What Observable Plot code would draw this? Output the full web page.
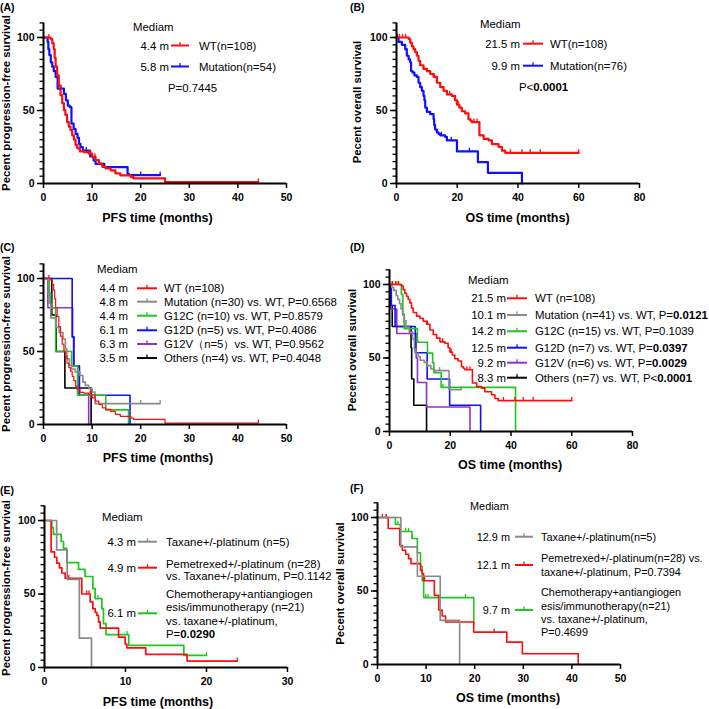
<!DOCTYPE html>
<html><head><meta charset="utf-8">
<script src="https://cdn.jsdelivr.net/npm/d3@7"></script>
<script src="https://cdn.jsdelivr.net/npm/@observablehq/plot@0.6"></script>
<style>
body{margin:0;background:#fff;}
#root{position:relative;width:709px;height:709px;overflow:hidden;background:#fff;font-family:"Liberation Sans",Arial,sans-serif;}
.panel{position:absolute;}
#overlay{position:absolute;left:0;top:0;pointer-events:none;}
</style></head><body><div id="root"></div>
<script>
// ---------------- DATA (time in months, survival in %) ----------------
// PFS, wild type (n=108) – panels A and C
const pfsWT = [[0,100],[1.45,99],[1.8,96],[2.1,92],[2.3,86],[2.5,80],[2.8,74],[3.15,67],[3.5,60.5],[3.85,55],[4.2,50.2],[4.5,47],[4.85,42],[5.2,39],[5.55,36.5],[5.9,33],[6.25,30],[6.6,26.3],[6.95,24],[7.5,22],[8.3,21.5],[9.3,20.5],[10,18.3],[10.7,16],[11.4,13.7],[12.1,11.4],[12.8,10.3],[13.8,9],[14.8,7],[15.8,5.6],[18,4.4],[18.5,3.5],[25,0.9]];
const pfsWTEnd = 44.2;
const pfsWTCens = [1.1, 9.6, 10.6, 44.2];
// PFS, mutation (n=54) – panel A
const pfsMut54 = [[0,100],[0.85,97],[1.0,92],[1.2,88],[1.5,83],[1.8,80],[2.1,77],[2.5,73],[2.9,65],[4.2,61.4],[4.6,57],[5.0,53.4],[5.4,52.3],[5.75,41],[6.2,37.4],[6.6,34],[7.0,31.3],[7.3,27.2],[7.6,25],[8.1,22.6],[9.6,18.5],[10.3,15.8],[10.7,13.5],[12.5,11.2],[17.3,6.6],[17.6,5.8]];
const pfsMut54End = 24;
const pfsMut54Cens = [3.6, 8.8, 20, 24];
// OS, wild type (n=108) – panels B and D
const osWT = [[0,100],[4.0,99],[4.5,96.5],[5.05,94],[5.6,92],[6.15,90],[6.7,87.5],[7.25,84],[7.8,81],[8.9,78.5],[10,77],[11.1,75],[12.2,73],[13.3,69],[14.4,66],[15.5,63.5],[16.6,61],[18.2,60],[19.3,57],[19.9,54],[20.7,52],[21.5,49.5],[22.6,48],[23.7,44],[24.3,43],[24.8,42],[27.3,33],[28.7,30.5],[30.3,29.5],[31.4,27],[33.6,25],[34.7,22.5],[35.8,21]];
const osWTEnd = 60;
const osWTCens = [1, 2, 3, 12.5, 17.5, 20.3, 25.5, 26.5, 37.5, 41.3, 44, 47.3, 60];
// OS, mutation (n=76) – panel B
const osMut76 = [[0,100],[0.66,97],[1.76,95],[2.86,92],[3.4,87.5],[4,85],[4.5,83],[4.8,77],[5.3,76],[5.9,74],[6.7,73],[7.25,69],[7.8,66],[8.35,63.5],[8.9,60],[9.2,57],[9.45,52],[10,49],[11.1,47.5],[12.2,44],[12.4,40],[12.7,37],[13.3,35],[13.8,34],[14.4,33],[16,32],[16.6,29.5],[19.9,22],[26.8,14.6],[30.1,7.3],[41.3,0]];
const osMut76Cens = [0.3, 14.8, 18, 24];
// PFS subgroups – panel C
const pfsMut30 = [[0,100],[1.0,90],[1.2,83],[1.5,73],[2.6,66.6],[3.2,63],[4.0,58.6],[4.5,51.8],[4.8,45],[5.35,40.5],[5.8,38],[6.5,36],[7.5,33.6],[8.1,29],[8.6,26.8],[9.3,24.5],[10,22.3],[10.6,14.3]];
const pfsMut30End = 24;
const pfsMut30Cens = [7.2, 20, 24];
const pfsG12C = [[0,100],[1.2,90],[1.5,80],[2.5,50],[5.8,40],[7.0,20],[12.8,10],[17.5,0]];
const pfsG12D = [[0,100],[5.9,60],[6.2,40],[7.4,20],[17.8,0]];
const pfsG12V = [[0,100],[0.9,80],[6.0,60],[6.3,40],[7.3,20],[9.3,0]];
const pfsOthers = [[0,100],[1.7,75],[2.6,50],[4.4,25],[9.8,0]];
// OS subgroups – panel D
const osMut41 = [[0,100],[0.76,98],[1.4,96],[2.2,92.5],[2.7,90],[3.3,87],[3.8,83.4],[4.3,79],[4.9,75.5],[5.4,71],[6.5,67.5],[7.6,63],[8.2,56],[8.7,53],[9.5,51],[10.1,48.5],[11.4,47],[12.5,44.8],[13.6,42.5],[14.7,41.4],[19.6,28.5]];
const osMut41End = 23.6;
const osMut41Cens = [0.5, 16.5, 19.6, 23.6];
const osG12C = [[0,100],[3.9,93.3],[4.4,80],[4.8,70],[9.2,60.7],[12.5,53.3],[14.2,46.7],[14.6,40],[17,30],[41.5,0]];
const osG12CCens = [2.5, 14.9, 17.6];
const osG12D = [[0,100],[0.5,85.7],[1.85,71.4],[8.5,53.6],[12.4,35.7],[19.8,17.9],[30,0]];
const osG12V = [[0,100],[0.4,83.3],[2.4,66.7],[8.8,50],[9.2,33.3],[12.2,16.7],[26.5,0]];
const osOthers = [[0,100],[0.6,85.7],[0.9,71.4],[7.1,57.1],[7.3,35.7],[8.0,17.9],[12.2,0]];
// PFS by regimen – panel E
const pfsTaxane = [[0,100],[1.5,80],[2.8,60],[4.3,20],[5.8,0]];
const pfsPem = [[0,100],[0.82,78.6],[1.23,75],[1.52,71],[1.85,67.8],[2.14,64.3],[2.55,60.7],[4.6,50],[5.64,44.6],[5.97,40],[6.26,37.5],[6.46,35.5],[6.67,31],[6.87,26.8],[9.14,20.6],[9.96,16],[10.16,13.4],[12.5,8.9],[17.6,4.4]];
const pfsPemEnd = 23.8;
const pfsPemCens = [3.0, 5.2, 5.5, 23.8];
const pfsChemo = [[0,100],[0.9,95.2],[1.1,90.5],[2.06,85.7],[2.35,81],[2.76,71.4],[4.2,66.7],[5.0,61.9],[5.97,53.6],[6.25,46.9],[7.08,40],[7.28,29.8],[7.6,22.3],[10.4,15],[17.2,8.2]];
const pfsChemoEnd = 20;
const pfsChemoCens = [6.6, 10.2, 20];
// OS by regimen – panel F
const osTaxane = [[0,100],[4.8,80],[8.2,60],[12.9,30],[16.9,0]];
const osPem = [[0,100],[2.2,92.5],[4.6,81],[5.1,77.7],[5.8,75],[6.4,72],[6.9,68.6],[8.85,64],[9.2,61.8],[9.5,57],[11.7,47],[12.6,37],[13.3,33],[14,28.9],[19.8,22],[26.6,15.2],[29.8,7.3],[41.3,0]];
const osPemCens = [1.0, 1.8, 9.7, 24];
const osChemo = [[0,100],[3.7,95.2],[4.7,90.5],[7.1,85.7],[8.2,76],[8.85,66.7],[9.2,57],[9.5,45.5],[19.8,27.5]];
const osChemoCens = [1.8, 4.2, 5.8, 6.4, 7.1, 9.9, 10.4, 18.1];

// Tick labels
const yTicks = [0, 50, 100];
const xTicks50 = [0, 10, 20, 30, 40, 50];
const xTicks80 = [0, 20, 40, 60, 80];
const xTicks30 = [0, 10, 20, 30];

// Legend texts
const legTitle = "Mediam";
const legA_med = ["4.4 m", "5.8 m"];
const legA_lab = [["WT(n=108)"], ["Mutation(n=54)"]];
const legA_note = "P=0.7445";
const legB_med = ["21.5 m", "9.9 m"];
const legB_lab = [["WT(n=108)"], ["Mutation(n=76)"]];
const legB_note = "P<**0.0001**";
const legC_med = ["4.4 m", "4.8 m", "4.4 m", "6.1 m", "6.3 m", "3.5 m"];
const legC_lab = [["WT (n=108)"], ["Mutation (n=30) vs. WT, P=0.6568"], ["G12C (n=10) vs. WT, P=0.8579"], ["G12D (n=5) vs. WT, P=0.4086"], ["G12V（n=5）vs. WT, P=0.9562"], ["Others (n=4) vs. WT, P=0.4048"]];
const legD_med = ["21.5 m", "10.1 m", "14.2 m", "12.5 m", "9.2 m", "8.3 m"];
const legD_lab = [["WT (n=108)"], ["Mutation (n=41) vs. WT, P=**0.0121**"], ["G12C (n=15) vs. WT, P=0.1039"], ["G12D (n=7) vs. WT, P=**0.0397**"], ["G12V (n=6) vs. WT, P=**0.0029**"], ["Others (n=7) vs. WT, P<**0.0001**"]];
const legE_med = ["4.3 m", "4.9 m", "6.1 m"];
const legE_lab = [["Taxane+/-platinum (n=5)"], ["Pemetrexed+/-platinum (n=28)", "vs. Taxane+/-platinum, P=0.1142"], ["Chemotherapy+antiangiogen", "esis/immunotherapy (n=21)", "vs. taxane+/-platinum,", "P=**0.0290**"]];
const legF_med = ["12.9 m", "12.1 m", "9.7 m"];
const legF_lab = [["Taxane+/-platinum(n=5)"], ["Pemetrexed+/-platinum(n=28) vs.", "taxane+/-platinum, P=0.7394"], ["Chemotherapy+antiangiogen", "esis/immunotherapy(n=21)", "vs. taxane+/-platinum,", "P=0.4699"]];

// ---------------- STYLE / LAYOUT ----------------
const RED = "#ff0d0d", BLUE = "#1010ff", GREEN = "#22c322", GRAY = "#8a8a8a", PURPLE = "#9430cf", BLACK = "#000000";
const FONT = "'Liberation Sans', Arial, Helvetica, sans-serif";

const panels = [
  {id:"A", left:0, top:0, width:345, height:235, mL:43, mR:59, mT:22.4, mB:52, xmax:50, xticks:xTicks50, sw:2.2,
   series:[{d:pfsWT,end:pfsWTEnd,cens:pfsWTCens,c:RED},{d:pfsMut54,end:pfsMut54End,cens:pfsMut54Cens,c:BLUE}]},
  {id:"B", left:345, top:0, width:364, height:235, mL:51, mR:70, mT:22.4, mB:52, xmax:80, xticks:xTicks80, sw:2.2,
   series:[{d:osWT,end:osWTEnd,cens:osWTCens,c:RED},{d:osMut76,cens:osMut76Cens,c:BLUE}]},
  {id:"C", left:0, top:235, width:345, height:240, mL:43, mR:59, mT:28.4, mB:51, xmax:50, xticks:xTicks50, sw:1.6,
   series:[{d:pfsWT,end:pfsWTEnd,cens:pfsWTCens,c:RED,w:1.2},{d:pfsMut30,end:pfsMut30End,cens:pfsMut30Cens,c:GRAY},{d:pfsG12C,c:GREEN},{d:pfsG12D,c:BLUE},{d:pfsG12V,c:PURPLE},{d:pfsOthers,c:BLACK}]},
  {id:"D", left:345, top:235, width:364, height:240, mL:44, mR:77, mT:34.3, mB:44, xmax:80, xticks:xTicks80, sw:1.6,
   series:[{d:osWT,end:osWTEnd,cens:osWTCens,c:RED},{d:osMut41,end:osMut41End,cens:osMut41Cens,c:GRAY},{d:osG12C,cens:osG12CCens,c:GREEN},{d:osG12D,c:BLUE},{d:osG12V,c:PURPLE},{d:osOthers,c:BLACK}]},
  {id:"E", left:0, top:475, width:345, height:234, mL:44, mR:58, mT:30.3, mB:42, xmax:30, xticks:xTicks30, sw:1.7,
   series:[{d:pfsTaxane,c:GRAY},{d:pfsPem,end:pfsPemEnd,cens:pfsPemCens,c:RED},{d:pfsChemo,end:pfsChemoEnd,cens:pfsChemoCens,c:GREEN}]},
  {id:"F", left:345, top:475, width:364, height:234, mL:32, mR:89, mT:27.3, mB:45, xmax:50, xticks:xTicks50, sw:1.6,
   series:[{d:osTaxane,c:GRAY},{d:osPem,cens:osPemCens,c:RED},{d:osChemo,cens:osChemoCens,c:GREEN}]}
];

// legend layout (absolute page pixels)
const legends = [
  {fs:11.4, title:[133,27], med:legA_med, lab:legA_lab, cols:[RED,BLUE], medR:169, sw1:171, sw2:189, labX:199, rowY:[45.5,66.5], lineY:[[45.5],[66.5]], note:[legA_note,168,88]},
  {fs:11.4, title:[480,23.5], med:legB_med, lab:legB_lab, cols:[RED,BLUE], medR:520, sw1:523, sw2:543, labX:550, rowY:[43.7,65.7], lineY:[[43.7],[65.7]], note:[legB_note,519,86.7]},
  {fs:11.4, title:[97,269], med:legC_med, lab:legC_lab, cols:[RED,GRAY,GREEN,BLUE,PURPLE,BLACK], medR:128, sw1:137, sw2:157, labX:164, rowY:[288.3,301.7,315.7,330.3,344,358], lineY:[[288.3],[301.7],[315.7],[330.3],[344],[358]]},
  {fs:11.4, title:[468,280], med:legD_med, lab:legD_lab, cols:[RED,GRAY,GREEN,BLUE,PURPLE,BLACK], medR:506, sw1:507, sw2:527, labX:535, rowY:[298.3,315,331.3,347.7,362.7,377.7], lineY:[[298.3],[315],[331.3],[347.7],[362.7],[377.7]]},
  {fs:11.4, title:[102,517], med:legE_med, lab:legE_lab, cols:[GRAY,RED,GREEN], medR:136, sw1:138, sw2:157, labX:166, rowY:[541.7,567.7,613.3], lineY:[[541.7],[563.7,576.3],[594,607.3,620.6,634]]},
  {fs:10.9, title:[470,506], med:legF_med, lab:legF_lab, cols:[GRAY,RED,GREEN], medR:510, sw1:515, sw2:533, labX:541, rowY:[536.7,565,610], lineY:[[536.7],[558.3,571.6],[592.3,605.6,618.9,632.2]]}
];

const axisTitles = [
  {x:"PFS time (months)", xc:[157.5,218], y:"Pecent progression-free survival", yc:[6,103], tag:"(A)", tc:[0,7]},
  {x:"OS time (months)", xc:[517.5,218], y:"Pecent overall survival", yc:[357,102], tag:"(B)", tc:[350,7]},
  {x:"PFS time (months)", xc:[158,458], y:"Pecent progression-free survival", yc:[6,344], tag:"(C)", tc:[0,247]},
  {x:"OS time (months)", xc:[510,465], y:"Pecent overall survival", yc:[352,350], tag:"(D)", tc:[350,247]},
  {x:"PFS time (months)", xc:[158,701.5], y:"Pecent progression-free survival", yc:[6,588], tag:"(E)", tc:[0,490]},
  {x:"OS time (months)", xc:[508,698], y:"Pecent overall survival", yc:[340,583.5], tag:"(F)", tc:[350,488]}
];

// ---------------- HELPERS ----------------
function stepPoints(pairs, end) {
  const pts = pairs.map(([t, s]) => ({t, s}));
  const last = pts[pts.length - 1];
  if (end != null && end > last.t) pts.push({t: end, s: last.s});
  return pts;
}
function survAt(pairs, t) {
  let s = 100;
  for (const [tt, ss] of pairs) if (tt <= t) s = ss;
  return s;
}
const censorSymbol = {draw(ctx) { ctx.moveTo(0, 0); ctx.lineTo(0, -3.6); }};

const root = document.getElementById("root");

for (const p of panels) {
  const marks = [];
  // draw the first series on top
  const ordered = [...p.series].reverse();
  for (const s of ordered) {
    marks.push(Plot.line(stepPoints(s.d, s.end), {x: "t", y: "s", curve: "step-after", stroke: s.c, strokeWidth: s.w || p.sw}));
    if (s.cens) {
      const cp = s.cens.map(t => ({t, s: survAt(s.d, t)}));
      marks.push(Plot.dot(cp, {x: "t", y: "s", symbol: censorSymbol, fill: "none", stroke: s.c, strokeWidth: 1.3}));
    }
  }
  marks.push(
    Plot.axisY({ticks: d3.range(0, 111, 5), tickSize: 3.5, tickFormat: () => "", label: null, strokeWidth: 1.3}),
    Plot.axisY({ticks: yTicks, tickSize: 6, tickPadding: 3, label: null, strokeWidth: 1.5}),
    Plot.axisX({ticks: p.xticks, tickSize: 5, tickPadding: 5, label: null, strokeWidth: 1.5}),
    Plot.ruleX([0], {strokeWidth: 2}),
    Plot.ruleY([0], {strokeWidth: 2})
  );
  const chart = Plot.plot({
    width: p.width, height: p.height,
    marginLeft: p.mL, marginRight: p.mR, marginTop: p.mT, marginBottom: p.mB,
    x: {domain: [0, p.xmax], label: null},
    y: {domain: [0, 110], label: null},
    style: {fontFamily: FONT, fontSize: "10.5px", fontWeight: "bold", background: "transparent", color: "#000", overflow: "visible"},
    marks
  });
  const div = document.createElement("div");
  div.className = "panel";
  div.style.left = p.left + "px";
  div.style.top = p.top + "px";
  div.appendChild(chart);
  root.appendChild(div);
}

// ---------------- OVERLAY TEXT (titles, tags, legends) ----------------
const ov = d3.select(root).append("svg").attr("id", "overlay")
  .attr("width", 709).attr("height", 709)
  .style("font-family", FONT);

function rich(sel, str) {
  str.split("**").forEach((part, i) => {
    if (part) sel.append("tspan").attr("font-weight", i % 2 ? "bold" : "normal").text(part);
  });
}

for (const a of axisTitles) {
  ov.append("text").attr("x", a.xc[0]).attr("y", a.xc[1]).attr("text-anchor", "middle")
    .attr("dominant-baseline", "central").attr("font-size", 12.5).attr("font-weight", "bold").text(a.x);
  ov.append("text").attr("transform", `translate(${a.yc[0]},${a.yc[1]}) rotate(-90)`).attr("text-anchor", "middle")
    .attr("dominant-baseline", "central").attr("font-size", 11.3).attr("font-weight", "bold").text(a.y);
  ov.append("text").attr("x", a.tc[0]).attr("y", a.tc[1]).attr("dominant-baseline", "central")
    .attr("font-size", 10.5).attr("font-weight", "bold").text(a.tag);
}

for (const L of legends) {
  ov.append("text").attr("x", L.title[0]).attr("y", L.title[1]).attr("dominant-baseline", "central")
    .attr("font-size", L.fs).text(legTitle);
  L.med.forEach((m, i) => {
    const y = L.rowY[i];
    ov.append("text").attr("x", L.medR).attr("y", y).attr("text-anchor", "end")
      .attr("dominant-baseline", "central").attr("font-size", L.fs).text(m);
    ov.append("line").attr("x1", L.sw1).attr("x2", L.sw2).attr("y1", y).attr("y2", y)
      .attr("stroke", L.cols[i]).attr("stroke-width", 2);
    const cx = (L.sw1 + L.sw2) / 2;
    ov.append("line").attr("x1", cx).attr("x2", cx).attr("y1", y).attr("y2", y - 3.5)
      .attr("stroke", L.cols[i]).attr("stroke-width", 1.3);
    L.lab[i].forEach((line, j) => {
      const t = ov.append("text").attr("x", L.labX).attr("y", L.lineY[i][j])
        .attr("dominant-baseline", "central").attr("font-size", L.fs);
      rich(t, line);
    });
  });
  if (L.note) {
    const t = ov.append("text").attr("x", L.note[1]).attr("y", L.note[2])
      .attr("dominant-baseline", "central").attr("font-size", L.fs);
    rich(t, L.note[0]);
  }
}
</script></body></html>
